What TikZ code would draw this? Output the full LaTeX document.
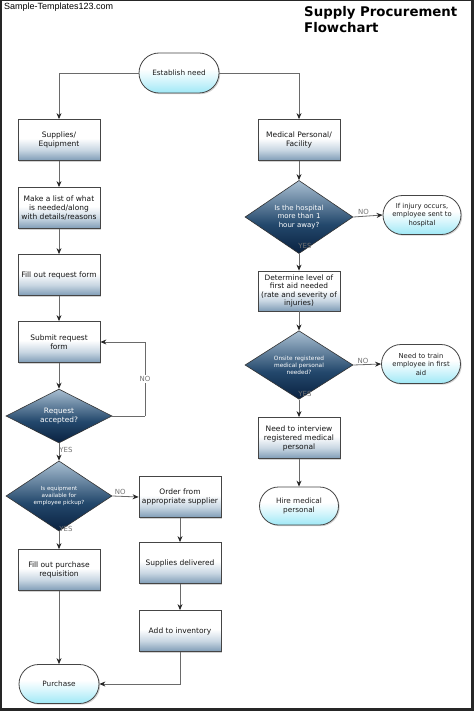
\documentclass[tikz,border=0pt]{standalone}
\usepackage{fontspec}
\setmainfont{DejaVu Sans}
\newfontfamily\arialf{Liberation Sans}
\usetikzlibrary{shapes.geometric,shapes.misc,arrows.meta,shadows}
\definecolor{bxb}{HTML}{7F9CB6}
\definecolor{bxm}{HTML}{C9D7E3}
\definecolor{tmb}{HTML}{9FE8F6}
\definecolor{tmm}{HTML}{D8F6FC}
\definecolor{dmb}{HTML}{0A2140}
\definecolor{dmm}{HTML}{23486C}
\definecolor{dmt}{HTML}{A9BFD2}
\definecolor{edge}{HTML}{454545}
\definecolor{linec}{HTML}{6A6A6A}
\pgfdeclareverticalshading{boxsh}{100bp}{color(0bp)=(bxb); color(25bp)=(bxb); color(38bp)=(bxm); color(52bp)=(white); color(100bp)=(white)}
\pgfdeclareverticalshading{termsh}{100bp}{color(0bp)=(tmb); color(25bp)=(tmb); color(42bp)=(tmm); color(55bp)=(white); color(100bp)=(white)}
\pgfdeclareverticalshading{diash}{100bp}{color(0bp)=(dmb); color(25bp)=(dmb); color(45bp)=(dmm); color(75bp)=(dmt); color(100bp)=(dmt)}
\tikzset{
  sh/.style={drop shadow={opacity=0.35, shadow xshift=1.2pt, shadow yshift=-1.2pt}},
  procbox/.style={rectangle, draw=edge, line width=0.8pt, minimum width=82pt, minimum height=41pt, inner sep=1pt, align=center, font=\fontsize{7.5}{9}\selectfont, text=black!92, shading=boxsh, sh},
  termnode/.style={rounded rectangle, draw=edge, line width=0.8pt, minimum width=82pt, minimum height=40pt, inner sep=1pt, align=center, font=\fontsize{7.3}{9}\selectfont, text=black!88, shading=termsh, sh},
  decnode/.style={diamond, draw=black!80, line width=0.6pt, minimum width=106pt, minimum height=53pt, inner sep=0pt, align=center, text=white, shading=diash},
  conn/.style={draw=linec, line width=0.8pt, -{Stealth[length=6pt,width=5pt,color=black!85]}},
  plain/.style={draw=linec, line width=0.8pt},
  lbl/.style={font=\fontsize{7}{8}\selectfont, text=black!55, inner sep=1pt}
}
\begin{document}
\begin{tikzpicture}[x=1pt,y=-1pt]
\useasboundingbox (0,0) rectangle (474,711);
\fill[black!85] (0,0) rectangle (474,711);
\fill[white] (2,1) rectangle (471,708);

\node[anchor=base west, inner sep=0pt, font=\arialf\fontsize{9}{10}\selectfont] (wm) at (4,10) {Sample-Templates123.com};
\node[anchor=north west, inner sep=0pt, align=left, font=\bfseries\fontsize{13.3}{16}\selectfont] (title) at (304,6) {Supply Procurement\\Flowchart};

% left column
\node[termnode] (est) at (179,73) {Establish need};
\node[procbox] (sup) at (59,140) {Supplies/\\Equipment};
\node[procbox] (list) at (59,208) {Make a list of what\\is needed/along\\with details/reasons};
\node[procbox] (fill) at (59,275) {Fill out request form};
\node[procbox] (submit) at (59,342) {Submit request\\form};
\node[decnode, font=\fontsize{7.4}{9}\selectfont] (req) at (59,416) {Request\\accepted?};
\node[decnode, minimum height=52pt, font=\fontsize{5.6}{7}\selectfont] (equip) at (59,496) {Is equipment\\available for\\employee pickup?};
\node[procbox] (order) at (180,497) {Order from\\appropriate supplier};
\node[procbox] (deliv) at (180,563) {Supplies delivered};
\node[procbox] (inv) at (180,631) {Add to inventory};
\node[procbox] (purreq) at (59,570) {Fill out purchase\\requisition};
\node[termnode, minimum height=39pt] (purch) at (59,684) {Purchase};

% right column
\node[procbox] (med) at (299,140) {Medical Personal/\\Facility};
\node[decnode, minimum width=108pt, minimum height=56pt, font=\fontsize{7}{8.5}\selectfont] (hosp) at (299,217) {Is the hospital\\more than 1\\hour away?};
\node[termnode, minimum width=80pt, minimum height=39pt, font=\fontsize{6.8}{8.5}\selectfont] (inj) at (422,215) {If injury occurs,\\employee sent to\\hospital};
\node[procbox, minimum height=40pt, font=\fontsize{7.4}{8.6}\selectfont] (det) at (299,291) {Determine level of\\first aid needed\\(rate and severity of\\injuries)};
\node[decnode, minimum width=108pt, minimum height=54pt, font=\fontsize{5.8}{7}\selectfont] (onsite) at (299,365) {Onsite registered\\medical personal\\needed?};
\node[termnode, minimum width=81pt, minimum height=39pt, font=\fontsize{6.8}{8.5}\selectfont] (train) at (421,364) {Need to train\\employee in first\\aid};
\node[procbox] (interview) at (299,438) {Need to interview\\registered medical\\personal};
\node[termnode, minimum width=81pt, minimum height=38pt] (hire) at (299,506) {Hire medical\\personal};

% connectors
\draw[conn] (est.west) -| (sup.north);
\draw[conn] (est.east) -| (med.north);
\draw[conn] (sup.south) -- (list.north);
\draw[conn] (list.south) -- (fill.north);
\draw[conn] (fill.south) -- (submit.north);
\draw[conn] (submit.south) -- (req.north);
\coordinate (loopc) at (145,416);
\draw[plain] (req.east) -- (loopc);
\draw[conn] (loopc) |- node[pos=0.25, lbl, fill=white] {NO} (submit.east);
\draw[conn] (req.south) -- (equip.north);
\node[lbl] (yes1) at (66,450) {YES};
\draw[conn] (equip.east) -- node[lbl, above, pos=0.3] {NO} (order.west);
\node[lbl] (yes2) at (66,529) {YES};
\draw[conn] (equip.south) -- (purreq.north);
\draw[conn] (purreq.south) -- (purch.north);
\draw[conn] (order.south) -- (deliv.north);
\draw[conn] (deliv.south) -- (inv.north);
\draw[conn] (inv.south) |- (purch.east);

\draw[conn] (med.south) -- (hosp.north);
\draw[conn] (hosp.east) -- node[lbl, above, pos=0.35] {NO} (inj.west);
\node[lbl] (yes3) at (305,246) {YES};
\draw[conn] (hosp.south) -- (det.north);
\draw[conn] (det.south) -- (onsite.north);
\draw[conn] (onsite.east) -- node[lbl, above, pos=0.35] {NO} (train.west);
\node[lbl] (yes4) at (305,394) {YES};
\draw[conn] (onsite.south) -- (interview.north);
\draw[conn] (interview.south) -- (hire.north);
\end{tikzpicture}
\end{document}
